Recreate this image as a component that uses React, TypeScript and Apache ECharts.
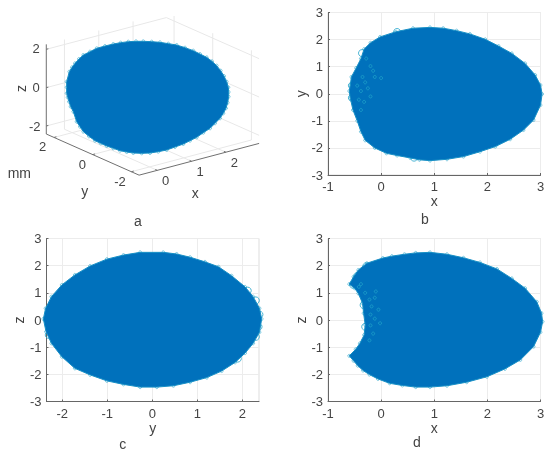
import React, { useEffect, useRef } from "react";
import * as echarts from "echarts";

const FONT = "Liberation Sans";
const TEXT = "#444444";
const FILL = "#0071bc";
const RIM = "#1fa2c9";
const AXIS = "#666666";
const GRID = "#ececec";

// Panel a: silhouette in the picture plane of the 3-D view
const outlineA = [[430,124],[455,125],[480,127],[505,131],[530,135],[555,143],[580,152],[600,162],[620,172],[636,184],[650,197],[662,212],[672,228],[680,245],[685,262],[686,276],[686,290],[683,308],[678,325],[670,340],[660,355],[645,370],[630,385],[610,398],[590,412],[570,422],[550,432],[525,441],[500,450],[475,455],[450,459],[425,460],[400,459],[380,456],[360,452],[340,445],[320,438],[302,430],[285,422],[267,409],[250,395],[240,380],[230,365],[220,335],[212,320],[207,305],[203,292],[200,280],[200,262],[200,245],[208,215],[216,202],[225,190],[237,177],[250,165],[270,155],[290,145],[315,138],[340,132],[362,128],[385,125],[408,124]];
// Panel b: x, y
const outlineB = [[0.92,2.45],[1.17,2.42],[1.42,2.33],[1.67,2.21],[1.96,2.01],[2.21,1.76],[2.46,1.49],[2.71,1.12],[2.9,0.69],[3.0,0.32],[3.03,-0.01],[3.0,-0.42],[2.87,-0.97],[2.68,-1.34],[2.43,-1.68],[2.15,-1.95],[1.86,-2.14],[1.55,-2.32],[1.24,-2.42],[0.92,-2.47],[0.72,-2.44],[0.55,-2.37],[0.3,-2.28],[0.1,-2.2],[-0.12,-2.0],[-0.3,-1.72],[-0.38,-1.4],[-0.45,-1.0],[-0.53,-0.6],[-0.58,-0.17],[-0.6,0.1],[-0.58,0.32],[-0.56,0.62],[-0.47,0.95],[-0.38,1.3],[-0.32,1.65],[-0.2,1.88],[-0.02,2.1],[0.28,2.29],[0.6,2.42]];
const bumpsB = [[-0.55,0.3],[-0.55,-0.15],[-0.47,0.6],[-0.47,-0.5],[0.3,2.28],[0.62,-2.36],[-0.36,1.5]];
const specksB = [[-0.45,0.3],[-0.38,0.1],[-0.3,0.42],[-0.42,-0.22],[-0.32,-0.3],[-0.25,0.2],[-0.2,-0.1],[-0.35,0.62],[-0.12,0.62],[0.0,0.58],[-0.28,1.3],[-0.2,1.02],[-0.38,-0.6],[-0.15,0.85]];
// Panel c: y, z
const outlineC = [[-0.27,2.49],[0.245,2.49],[0.54,2.43],[0.84,2.31],[1.17,2.14],[1.47,1.96],[1.76,1.63],[2.06,1.22],[2.24,0.86],[2.38,0.43],[2.43,0.04],[2.38,-0.45],[2.24,-0.86],[2.06,-1.22],[1.84,-1.56],[1.54,-1.88],[1.21,-2.12],[0.84,-2.29],[0.47,-2.42],[0.1,-2.47],[-0.27,-2.47],[-0.64,-2.37],[-1.01,-2.24],[-1.38,-2.02],[-1.72,-1.78],[-2.01,-1.35],[-2.24,-0.86],[-2.36,-0.43],[-2.42,0.04],[-2.37,0.43],[-2.24,0.86],[-2.01,1.29],[-1.72,1.66],[-1.38,1.99],[-1.01,2.24],[-0.64,2.39]];
const bumpsC = [[2.3,0.72],[2.38,0.2],[2.36,-0.25],[2.3,-0.62],[2.12,1.08],[-2.3,-0.55],[1.9,-1.42]];
// Panel d: x, z
const outlineD = [[0.92,2.49],[1.24,2.42],[1.55,2.29],[1.86,2.12],[2.18,1.88],[2.46,1.53],[2.71,1.17],[2.93,0.67],[3.02,0.25],[3.04,-0.06],[3.0,-0.45],[2.87,-0.98],[2.62,-1.47],[2.33,-1.8],[1.99,-2.09],[1.61,-2.29],[1.24,-2.42],[0.92,-2.47],[0.65,-2.47],[0.4,-2.41],[0.16,-2.33],[-0.06,-2.17],[-0.22,-2.01],[-0.34,-1.86],[-0.44,-1.68],[-0.52,-1.5],[-0.6,-1.32],[-0.48,-1.08],[-0.4,-0.86],[-0.32,-0.55],[-0.3,-0.18],[-0.33,0.25],[-0.35,0.62],[-0.43,0.98],[-0.5,1.17],[-0.6,1.32],[-0.52,1.59],[-0.43,1.84],[-0.27,2.09],[0.03,2.28],[0.2,2.35],[0.44,2.42],[0.65,2.47]];
const bumpsD = [[-0.3,-0.78],[-0.53,1.3],[-0.5,-1.3],[-0.33,0.55],[-0.3,-0.25],[-0.45,1.62],[-0.28,1.98]];
const specksD = [[-0.22,0.75],[-0.18,0.5],[-0.12,0.82],[-0.2,0.2],[-0.12,0.05],[-0.2,-0.2],[-0.15,-0.5],[-0.22,-0.75],[-0.05,0.38],[-0.02,-0.12],[-0.3,1.0],[-0.38,1.32],[-0.42,1.22],[-0.1,1.05]];

const ticks2D = [-2, -1, 0, 1, 2];

// Panel a: the 3-D frame
const xRange3D = [-0.53, 2.97];
const yRange3D = [-2.4, 2.4];
const zRange3D = [-2.42, 2.26];
const xTicks3D = [0, 1, 2];
const yTicks3D = [-2, 0, 2];
const zTicks3D = [-2, 0, 2];
const tickLabels3D = [
  { t: "2", x: 108, y: 146 }, { t: "0", x: 108, y: 262 }, { t: "-2", x: 104, y: 378 },
  { t: "2", x: 128, y: 440 }, { t: "0", x: 247, y: 492 }, { t: "-2", x: 360, y: 543 },
  { t: "0", x: 497, y: 540 }, { t: "1", x: 600, y: 515 }, { t: "2", x: 703, y: 488 },
  { t: "y", x: 254, y: 572 }, { t: "x", x: 586, y: 578 }, { t: "mm", x: 58, y: 519 },
  { t: "a", x: 414, y: 663 },
];

const project = (x: number, y: number, z: number) => [
  332.6 + x * 102.9 - y * 58,
  310.2 - x * 27.2 - y * 25.7 - z * 57.5,
];

function seg(out: any[], a: number[], b: number[]) {
  out.push(project(a[0], a[1], a[2]), project(b[0], b[1], b[2]), [null, null]);
}
const [x0, x1] = xRange3D;
const [y0, y1] = yRange3D;
const [z0, z1] = zRange3D;

const grid3D: any[] = [];
xTicks3D.forEach((x) => {
  seg(grid3D, [x, y1, z0], [x, y1, z1]);
  seg(grid3D, [x, y0, z0], [x, y1, z0]);
});
yTicks3D.forEach((y) => {
  seg(grid3D, [x1, y, z0], [x1, y, z1]);
  seg(grid3D, [x0, y, z0], [x1, y, z0]);
});
zTicks3D.forEach((z) => {
  seg(grid3D, [x0, y1, z], [x1, y1, z]);
  seg(grid3D, [x1, y1, z], [x1, y0, z]);
});

const axes3D: any[] = [];
seg(axes3D, [x0, y1, z0], [x0, y1, z1]);
seg(axes3D, [x0, y1, z0], [x0, y0, z0]);
seg(axes3D, [x0, y0, z0], [x1, y0, z0]);
zTicks3D.forEach((z) => seg(axes3D, [x0, y1, z], [x0 + 0.06, y1, z]));
xTicks3D.forEach((x) => seg(axes3D, [x, y0, z0], [x, y0 + 0.1, z0]));
yTicks3D.forEach((y) => seg(axes3D, [x0, y, z0], [x0 + 0.07, y, z0]));

function blob(outline: number[][], grid: number) {
  return {
    type: "custom",
    xAxisIndex: grid,
    yAxisIndex: grid,
    clip: false,
    silent: true,
    z: 4,
    data: outline,
    renderItem: (params: any, api: any) => {
      if (params.dataIndex !== 0) return null;
      return {
        type: "polygon",
        shape: { points: outline.map((p) => api.coord(p)) },
        style: { fill: FILL, stroke: "#1790c6", lineWidth: 1, lineJoin: "round" },
      };
    },
  };
}

function rim(data: number[][], grid: number, size: number, z: number, opacity = 1) {
  return {
    type: "scatter",
    xAxisIndex: grid,
    yAxisIndex: grid,
    clip: false,
    silent: true,
    z,
    symbol: "circle",
    symbolSize: size,
    itemStyle: { color: "rgba(0,0,0,0)", borderColor: RIM, borderWidth: 0.8, opacity },
    data,
  };
}

function cartAxes(grid: number, xMin: number, xMax: number, xName: string, yName: string, xCustom?: number[]) {
  const line = { show: true, onZero: false, lineStyle: { color: AXIS, width: 1 } };
  const label = { color: TEXT, fontFamily: FONT, fontSize: 13, margin: 5 };
  const nameStyle = { color: TEXT, fontFamily: FONT, fontSize: 14 };
  const xAxis: any = {
    gridIndex: grid, type: "value", min: xMin, max: xMax, name: xName,
    nameLocation: "middle", nameGap: 19, nameTextStyle: nameStyle,
    axisLine: line,
    axisTick: { show: true, inside: true, length: 2, lineStyle: { color: AXIS } },
    axisLabel: { ...label, showMinLabel: true, showMaxLabel: true },
    splitLine: { show: true, lineStyle: { color: GRID, width: 1 } },
  };
  if (xCustom) {
    xAxis.axisLabel.customValues = xCustom;
    xAxis.axisTick.customValues = xCustom;
    xAxis.axisLabel.showMinLabel = undefined;
    xAxis.axisLabel.showMaxLabel = undefined;
  } else {
    xAxis.interval = 1;
  }
  const yAxis: any = {
    gridIndex: grid, type: "value", min: -3, max: 3, interval: 1, name: yName,
    nameLocation: "middle", nameGap: 17, nameRotate: 90, nameTextStyle: nameStyle,
    axisLine: line,
    axisTick: { show: true, inside: true, length: 2, lineStyle: { color: AXIS } },
    axisLabel: { ...label, showMinLabel: true, showMaxLabel: true },
    splitLine: { show: true, lineStyle: { color: GRID, width: 1 } },
  };
  return { xAxis, yAxis };
}

export default function App() {
  const ref = useRef<HTMLDivElement>(null);
  useEffect(() => {
    const chart = echarts.init(ref.current!, undefined, { renderer: "svg" });
    const b = cartAxes(1, -1, 3, "x", "y");
    const c = cartAxes(2, -2.35, 2.37, "y", "z", ticks2D);
    const d = cartAxes(3, -1, 3, "x", "z");
    const labelFont = `14px "${FONT}"`;
    chart.setOption({
      animation: false,
      backgroundColor: "#ffffff",
      grid: [
        { left: 0, top: 0, width: 275, height: 230, show: false },
        { left: 328, top: 12.5, width: 212.5, height: 162.5, show: true, borderColor: "#dddddd", borderWidth: 1 },
        { left: 46.5, top: 238.5, width: 212.5, height: 163, show: true, borderColor: "#dddddd", borderWidth: 1 },
        { left: 328, top: 238.5, width: 212.5, height: 163, show: true, borderColor: "#dddddd", borderWidth: 1 },
      ],
      xAxis: [
        { gridIndex: 0, type: "value", min: 0, max: 825, show: false },
        b.xAxis, c.xAxis, d.xAxis,
      ],
      yAxis: [
        { gridIndex: 0, type: "value", min: 0, max: 690, inverse: true, show: false },
        b.yAxis, c.yAxis, d.yAxis,
      ],
      series: [
        { type: "line", xAxisIndex: 0, yAxisIndex: 0, data: grid3D, symbol: "none", silent: true, z: 1, connectNulls: false, lineStyle: { color: "#e8e8e8", width: 1 } },
        { type: "line", xAxisIndex: 0, yAxisIndex: 0, data: axes3D, symbol: "none", silent: true, z: 2, connectNulls: false, lineStyle: { color: "#707070", width: 1 } },
        rim(outlineA, 0, 3, 3, 0.7),
        blob(outlineA, 0),
        rim(outlineB, 1, 3, 3, 0.7),
        rim(bumpsB, 1, 7, 3),
        blob(outlineB, 1),
        rim(specksB, 1, 3, 5),
        rim(outlineC, 2, 3, 3, 0.7),
        rim(bumpsC, 2, 7, 3),
        blob(outlineC, 2),
        rim(outlineD, 3, 3, 3, 0.7),
        rim(bumpsD, 3, 7, 3),
        blob(outlineD, 3),
        rim(specksD, 3, 3, 5),
      ],
      graphic: [
        ...tickLabels3D.map((l) => ({
          type: "text", x: l.x / 3, y: l.y / 3,
          style: { text: l.t, fill: TEXT, font: /[a-z]/.test(l.t) ? labelFont : `13px "${FONT}"`, align: "center", verticalAlign: "middle" },
        })),
        { type: "text", x: 21, y: 88.5, rotation: Math.PI / 2, style: { text: "z", fill: TEXT, font: labelFont, align: "center", verticalAlign: "middle" } },
        { type: "text", x: 425, y: 219, style: { text: "b", fill: TEXT, font: labelFont, align: "center", verticalAlign: "middle" } },
        { type: "text", x: 122.7, y: 444, style: { text: "c", fill: TEXT, font: labelFont, align: "center", verticalAlign: "middle" } },
        { type: "text", x: 417, y: 442, style: { text: "d", fill: TEXT, font: labelFont, align: "center", verticalAlign: "middle" } },
      ],
    });
    return () => chart.dispose();
  }, []);
  return <div ref={ref} style={{ position: "absolute", left: 0, top: 0, width: 550, height: 459, filter: "blur(0.4px)" }} />;
}
